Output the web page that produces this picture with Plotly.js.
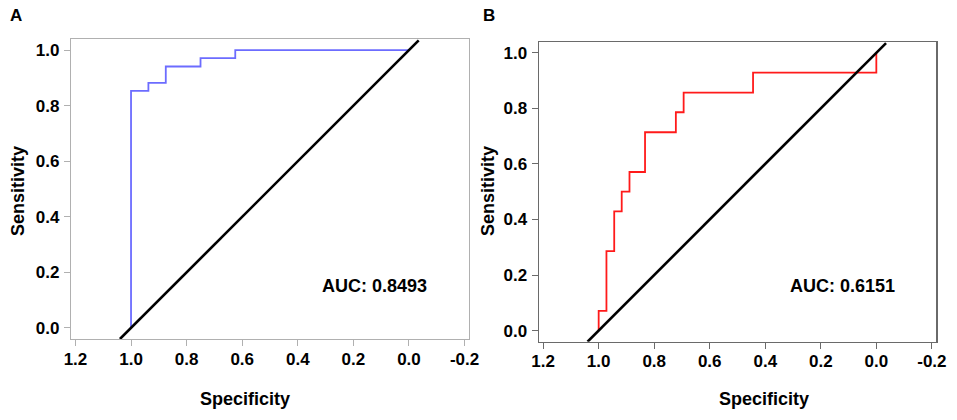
<!DOCTYPE html>
<html>
<head>
<meta charset="utf-8">
<script src="https://cdn.plot.ly/plotly-3.0.1.min.js"></script>
<style>
  html, body { margin: 0; padding: 0; background: #fff; }
  #chart { width: 957px; height: 420px; }
</style>
</head>
<body>
<div id="chart"></div>
<script>
// ROC coordinates (specificity, sensitivity)
const specA = [1, 1, 0.9375, 0.9375, 0.875, 0.875, 0.75, 0.75, 0.625, 0.625, 0];
const sensA = [0, 0.853, 0.853, 0.882, 0.882, 0.941, 0.941, 0.971, 0.971, 1, 1];

const specB = [1, 1, 0.972, 0.972, 0.944, 0.944, 0.917, 0.917, 0.889, 0.889,
               0.833, 0.833, 0.722, 0.722, 0.694, 0.694, 0.444, 0.444, 0, 0];
const sensB = [0, 0.071, 0.071, 0.286, 0.286, 0.429, 0.429, 0.5, 0.5, 0.571,
               0.571, 0.714, 0.714, 0.786, 0.786, 0.857, 0.857, 0.929, 0.929, 1];

// chance line
const diagX = [1.04, -0.035];
const diagY = [-0.04, 1.035];

const xTickVals = [1.2, 1.0, 0.8, 0.6, 0.4, 0.2, 0.0, -0.2];
const xTickText = ['1.2', '1.0', '0.8', '0.6', '0.4', '0.2', '0.0', '-0.2'];
const yTickVals = [0, 0.2, 0.4, 0.6, 0.8, 1.0];
const yTickText = ['0.0', '0.2', '0.4', '0.6', '0.8', '1.0'];

const aucA = 'AUC: 0.8493';
const aucB = 'AUC: 0.6151';

const FONT = 'Liberation Sans, Arial, sans-serif';
const W = 957, H = 420;
const px = v => v / W;
const py = v => (H - v) / H;

const traces = [
    { x: specA, y: sensA, xaxis: 'x', yaxis: 'y', mode: 'lines',
      line: { color: '#6c6cff', width: 1.8 }, hoverinfo: 'skip' },
    { x: diagX, y: diagY, xaxis: 'x', yaxis: 'y', mode: 'lines',
      line: { color: '#000', width: 2.6 }, hoverinfo: 'skip' },
    { x: specB, y: sensB, xaxis: 'x2', yaxis: 'y2', mode: 'lines',
      line: { color: '#ff1a1a', width: 1.8 }, hoverinfo: 'skip' },
    { x: diagX, y: diagY, xaxis: 'x2', yaxis: 'y2', mode: 'lines',
      line: { color: '#000', width: 2.6 }, hoverinfo: 'skip' }
];

function xAxis(domain, anchor, col) {
    return {
        domain: domain, anchor: anchor,
        range: [1.216, -0.216],
        tickmode: 'array', tickvals: xTickVals, ticktext: xTickText,
        showgrid: false, zeroline: false,
        showline: true, mirror: true, linecolor: col, linewidth: 1.2,
        ticks: 'outside', ticklen: 6, tickcolor: col, tickwidth: 1,
        ticklabelstandoff: -2,
        tickfont: { family: FONT, size: 17, color: '#000', weight: 700 },
        fixedrange: true
    };
}
function yAxis(domain, anchor, col) {
    return {
        domain: domain, anchor: anchor,
        range: [-0.04, 1.04],
        tickmode: 'array', tickvals: yTickVals, ticktext: yTickText,
        showgrid: false, zeroline: false,
        showline: true, mirror: true, linecolor: col, linewidth: 1.2,
        ticks: 'outside', ticklen: 6, tickcolor: col, tickwidth: 1,
        ticklabelstandoff: 1,
        tickfont: { family: FONT, size: 17, color: '#000', weight: 700 },
        fixedrange: true
    };
}

function label(text, x, y, size, angle) {
    return {
        text: '<b>' + text + '</b>', x: px(x), y: py(y),
        xref: 'paper', yref: 'paper', showarrow: false,
        xanchor: 'center', yanchor: 'middle', textangle: angle || 0,
        font: { family: FONT, size: size, color: '#000' }
    };
}

const layout = {
    width: W, height: H,
    margin: { l: 0, r: 0, t: 0, b: 0 },
    paper_bgcolor: '#fff', plot_bgcolor: '#fff',
    showlegend: false,
    xaxis: xAxis([px(71), px(469)], 'y', '#b0b0b0'),
    yaxis: yAxis([py(339), py(39)], 'x', '#b0b0b0'),
    xaxis2: xAxis([px(538.7), px(936.3)], 'y2', '#6a6a6a'),
    yaxis2: yAxis([py(341.7), py(41.7)], 'x2', '#6a6a6a'),
    annotations: [
        label('A', 16, 16, 17),
        label('B', 489, 16, 17),
        label('Specificity', 245, 399, 18),
        label('Specificity', 764, 399, 18),
        label('Sensitivity', 18, 191, 18, -90),
        label('Sensitivity', 488, 191, 18, -90),
        label(aucA, 374, 286, 18),
        label(aucB, 842, 286, 18)
    ]
};

Plotly.newPlot('chart', traces, layout, { displayModeBar: false, staticPlot: true });
</script>
</body>
</html>
